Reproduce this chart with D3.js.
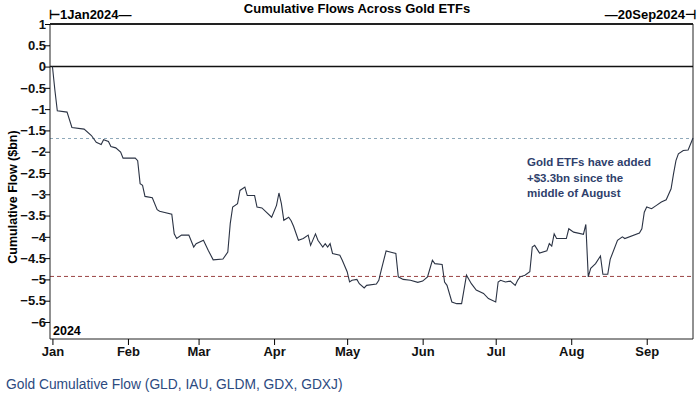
<!DOCTYPE html>
<html>
<head>
<meta charset="utf-8">
<script src="https://cdn.jsdelivr.net/npm/d3@7"></script>
<style>
  body { margin: 0; background: #fff; }
  svg { display: block; font-family: "Liberation Sans", Arial, sans-serif; }
</style>
</head>
<body>
<svg id="chart" width="700" height="394"></svg>
<script>
// cumulative flow, $bn
var dates = [
  "2024-01-01","2024-01-02","2024-01-03","2024-01-07","2024-01-09","2024-01-14","2024-01-17","2024-01-19",
  "2024-01-21","2024-01-22","2024-01-24","2024-01-25","2024-01-27","2024-01-29","2024-01-30","2024-02-04",
  "2024-02-05","2024-02-06","2024-02-07","2024-02-08","2024-02-11","2024-02-13","2024-02-14","2024-02-19",
  "2024-02-20","2024-02-21","2024-02-23","2024-02-26","2024-02-28","2024-02-29","2024-03-03","2024-03-05",
  "2024-03-07","2024-03-11","2024-03-13","2024-03-14","2024-03-15","2024-03-17","2024-03-18","2024-03-20",
  "2024-03-21","2024-03-24","2024-03-25","2024-03-27","2024-03-31","2024-04-02","2024-04-03","2024-04-04",
  "2024-04-05","2024-04-07","2024-04-08","2024-04-09","2024-04-11","2024-04-13","2024-04-15","2024-04-16",
  "2024-04-18","2024-04-19","2024-04-21","2024-04-22","2024-04-23","2024-04-24","2024-04-25","2024-04-28",
  "2024-04-29","2024-05-01","2024-05-02","2024-05-03","2024-05-05","2024-05-06","2024-05-08","2024-05-09",
  "2024-05-13","2024-05-14","2024-05-15","2024-05-17","2024-05-19","2024-05-21","2024-05-22","2024-05-24",
  "2024-05-27","2024-05-30","2024-06-01","2024-06-03","2024-06-05","2024-06-06","2024-06-09","2024-06-10",
  "2024-06-11","2024-06-13","2024-06-15","2024-06-17","2024-06-19","2024-06-21","2024-06-23","2024-06-26",
  "2024-06-28","2024-07-01","2024-07-02","2024-07-03","2024-07-05","2024-07-07","2024-07-09","2024-07-10",
  "2024-07-11","2024-07-13","2024-07-15","2024-07-16","2024-07-17","2024-07-19","2024-07-22","2024-07-23",
  "2024-07-24","2024-07-25","2024-07-26","2024-07-30","2024-07-31","2024-08-02","2024-08-06","2024-08-07",
  "2024-08-08","2024-08-09","2024-08-11","2024-08-13","2024-08-14","2024-08-16","2024-08-17","2024-08-20",
  "2024-08-22","2024-08-23","2024-08-29","2024-08-30","2024-08-31","2024-09-01","2024-09-03","2024-09-05",
  "2024-09-07","2024-09-09","2024-09-11","2024-09-12","2024-09-13","2024-09-14","2024-09-16","2024-09-18",
  "2024-09-19","2024-09-20"
];
var flows = [
  0, -0.55, -1.04, -1.07, -1.43, -1.47, -1.62, -1.78,
  -1.83, -1.72, -1.76, -1.88, -1.91, -2.01, -2.15, -2.15,
  -2.21, -2.75, -2.79, -3.05, -3.08, -3.36, -3.40, -3.47,
  -3.93, -4.04, -3.96, -3.96, -4.24, -4.16, -4.08, -4.32,
  -4.54, -4.52, -4.36, -3.69, -3.30, -3.22, -2.91, -2.83,
  -3.03, -3.03, -3.30, -3.32, -3.54, -3.26, -2.97, -3.22,
  -3.61, -3.54, -3.62, -3.75, -4.08, -4.04, -3.96, -4.20,
  -3.93, -4.08, -4.24, -4.16, -4.24, -4.16, -4.39, -4.43,
  -4.55, -4.82, -5.06, -5.02, -5.00, -5.10, -5.20, -5.14,
  -5.11, -5.02, -4.78, -4.33, -4.36, -4.39, -4.94, -5.00,
  -5.02, -5.07, -5.04, -4.94, -4.55, -4.63, -4.65, -5.06,
  -5.14, -5.53, -5.57, -5.57, -4.90, -5.10, -5.25, -5.33,
  -5.45, -5.53, -5.06, -5.02, -5.06, -5.04, -5.14, -5.02,
  -4.94, -4.90, -4.82, -4.24, -4.20, -4.38, -4.33, -4.16,
  -4.22, -3.93, -4.04, -4.04, -3.81, -3.89, -3.94, -3.71,
  -4.94, -4.74, -4.63, -4.45, -4.88, -4.88, -4.53, -4.08,
  -4.00, -4.04, -3.91, -3.81, -3.42, -3.30, -3.34, -3.26,
  -3.18, -3.13, -2.87, -2.52, -2.21, -2.05, -1.97, -1.96,
  -1.82, -1.68
];
var yTicks = [1, 0.5, 0, -0.5, -1, -1.5, -2, -2.5, -3, -3.5, -4, -4.5, -5, -5.5, -6];
var monthTicks = ["2024-01-01","2024-02-01","2024-03-01","2024-04-01","2024-05-01","2024-06-01","2024-07-01","2024-08-01","2024-09-01"];
var latestLevel = -1.69;   // blue dashed
var midAugLevel = -4.93;   // red dashed
var noteLines = ["Gold ETFs have added", "+$3.3bn since the", "middle of August"];

var parse = d3.timeParse("%Y-%m-%d");
var data = dates.map(function(d, i) { return { date: parse(d), value: flows[i] }; });

// plot box (note: "top" is a window global, so prefixed names)
var plotLeft = 50, plotRight = 693, plotTop = 24, plotBottom = 339;
var svg = d3.select("#chart");

var x = d3.scaleTime()
  .domain([parse("2023-12-31"), parse("2024-09-20")])
  .range([plotLeft, plotRight]);
var y = d3.scaleLinear()
  .domain([-6.4, 1])
  .range([plotBottom, plotTop]);

// title + date range
svg.append("text").attr("x", 357).attr("y", 13).attr("text-anchor", "middle")
  .style("font-size", "13px").style("font-weight", "bold").text("Cumulative Flows Across Gold ETFs");
svg.append("text").attr("x", 49).attr("y", 19)
  .style("font-size", "13px").style("font-weight", "bold").text("\u22A21Jan2024\u2014");
svg.append("text").attr("x", 696).attr("y", 19).attr("text-anchor", "end")
  .style("font-size", "13px").style("font-weight", "bold").text("\u201420Sep2024\u22A3");

// frame
svg.append("line").attr("x1", plotLeft).attr("x2", plotRight).attr("y1", plotTop).attr("y2", plotTop)
  .attr("stroke", "#222").attr("stroke-width", 2);
svg.append("line").attr("x1", plotRight).attr("x2", plotRight).attr("y1", plotTop).attr("y2", plotBottom)
  .attr("stroke", "#222").attr("stroke-width", 1);

// reference lines
svg.append("line").attr("x1", plotLeft).attr("x2", plotRight).attr("y1", y(0)).attr("y2", y(0))
  .attr("stroke", "#111").attr("stroke-width", 1.5);
svg.append("line").attr("x1", plotLeft).attr("x2", plotRight).attr("y1", y(latestLevel)).attr("y2", y(latestLevel))
  .attr("stroke", "#8fa9ba").attr("stroke-width", 1.2).attr("stroke-dasharray", "3,3");
svg.append("line").attr("x1", plotLeft).attr("x2", plotRight).attr("y1", y(midAugLevel)).attr("y2", y(midAugLevel))
  .attr("stroke", "#9a4444").attr("stroke-width", 1).attr("stroke-dasharray", "4,3");

// axes
var yAxis = d3.axisLeft(y).tickValues(yTicks).tickSize(5).tickSizeOuter(0)
  .tickFormat(function(d) { return d3.format("")(d); });
var gy = svg.append("g").attr("transform", "translate(" + plotLeft + ",0)").call(yAxis);
gy.select(".domain").attr("stroke", "#222").attr("d", "M0," + plotTop + "V" + plotBottom);
gy.selectAll("text").style("font-size", "13px").style("font-weight", "bold")
  .style("font-family", "'Liberation Sans', Arial, sans-serif").attr("fill", "#111").attr("x", -4);

var xAxis = d3.axisBottom(x).tickValues(monthTicks.map(parse)).tickSize(6).tickSizeOuter(0)
  .tickFormat(d3.timeFormat("%b"));
var gx = svg.append("g").attr("transform", "translate(0," + plotBottom + ")").call(xAxis);
gx.select(".domain").attr("stroke", "#222").attr("d", "M" + plotLeft + ",0H" + plotRight);
gx.selectAll("text").style("font-size", "13px").style("font-weight", "bold")
  .style("font-family", "'Liberation Sans', Arial, sans-serif").attr("fill", "#111").attr("y", 8);

svg.append("text").attr("transform", "translate(17,197) rotate(-90)").attr("text-anchor", "middle")
  .style("font-size", "12.5px").style("font-weight", "bold").text("Cumulative Flow ($bn)");

svg.append("text").attr("x", 53).attr("y", 335)
  .style("font-size", "12.5px").style("font-weight", "bold").text("2024");

// series
var line = d3.line().x(function(d) { return x(d.date); }).y(function(d) { return y(d.value); });
svg.append("path").datum(data).attr("d", line)
  .attr("fill", "none").attr("stroke", "#2b3344").attr("stroke-width", 1.1);

// annotation
svg.append("g").selectAll("text").data(noteLines).enter().append("text")
  .attr("x", 527).attr("y", function(d, i) { return 166 + i * 15.5; })
  .style("font-size", "11.5px").style("font-weight", "bold").attr("fill", "#2f3f6c")
  .text(function(d) { return d; });

// footer
svg.append("text").attr("x", 6).attr("y", 389)
  .style("font-size", "13.8px").attr("fill", "#2c4a80")
  .text("Gold Cumulative Flow (GLD, IAU, GLDM, GDX, GDXJ)");
</script>
</body>
</html>
